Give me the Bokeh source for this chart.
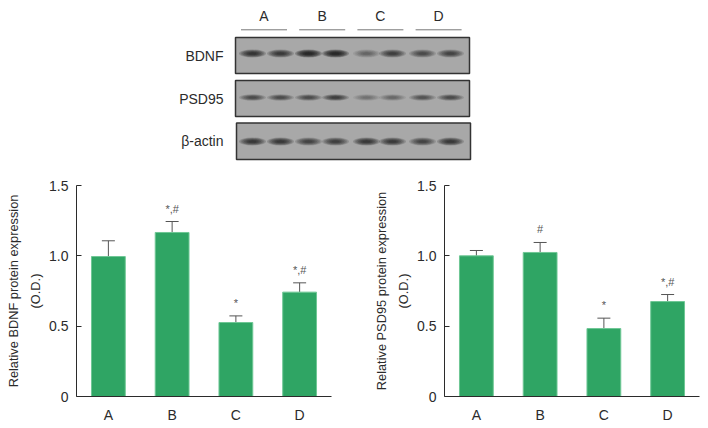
from bokeh.plotting import figure
from bokeh.layouts import column, row
from bokeh.models import Range1d, FactorRange, Whisker, TeeHead, ColumnDataSource, LinearAxis, FixedTicker
from bokeh.core.properties import value
from bokeh.embed import file_html
from bokeh.resources import INLINE

groups = ["A", "B", "C", "D"]
bdnf_mean = [0.995, 1.166, 0.526, 0.742]
bdnf_top = [1.107, 1.244, 0.573, 0.808]
bdnf_marks = ["", "*,#", "*", "*,#"]
psd_mean = [1.0, 1.024, 0.483, 0.675]
psd_top = [1.038, 1.095, 0.557, 0.725]
psd_marks = ["", "#", "*", "*,#"]
y_ticks = [0, 0.5, 1.0, 1.5]
y_tick_labels = {0: "0", 0.5: "0.5", 1: "1.0", 1.5: "1.5"}

blot_names = ["BDNF", "PSD95", "β-actin"]
bdnf_bands = [0.8, 0.7, 1.0, 1.0, 0.35, 0.65, 0.55, 0.6]
psd_bands = [0.55, 0.5, 0.5, 0.65, 0.25, 0.3, 0.45, 0.55]
actin_bands = [0.75, 0.75, 0.6, 0.65, 0.75, 0.7, 0.6, 0.75]

FONT = "Liberation Sans"
INK = "#2b2b2b"

# ---- blot panel: data units are page pixels
blot = figure(width=700, height=161, output_backend="svg", toolbar_location=None,
              x_range=Range1d(0, 700), y_range=Range1d(161, 0),
              min_border=0, outline_line_color=None)
blot.axis.visible = False
blot.grid.visible = False

lane_x = [252, 280, 308, 335, 366, 392, 422, 450]
rows = [(bdnf_bands, 235, 469, 37, 73, 53, 8),
        (psd_bands, 235, 469, 80, 116, 97, 6.5),
        (actin_bands, 236, 470, 122.5, 159, 141, 8)]
for (bands, x0, x1, y0, y1, yc, bh), name in zip(rows, blot_names):
    blot.quad(left=x0, right=x1, top=y0, bottom=y1, fill_color="#a8a8a8",
              line_color="#333333", line_width=1.5)
    for k in range(7):
        f = 1 - k * 0.12
        blot.ellipse(x=lane_x, y=[yc] * 8, width=27 * f, height=bh * f,
                     fill_color="#141414", line_color=None,
                     fill_alpha=[0.24 * b for b in bands])
    blot.text(x=[223], y=[(y0 + y1) / 2], text=[name], text_align="right",
              text_baseline="middle", text_font=value(FONT), text_font_size="14px",
              text_color=INK)

for i, g in enumerate(groups):
    xc = 263.5 + i * 58.2
    blot.text(x=[xc], y=[15], text=[g], text_align="center", text_baseline="middle",
              text_font=value(FONT), text_font_size="14px", text_color=INK)
    blot.segment(x0=[xc - 23], x1=[xc + 23], y0=[29.3], y1=[29.3],
                 line_color="#777777", line_width=1)


def style_label(ax, text, standoff):
    ax.axis_label = text
    ax.axis_label_text_font = FONT
    ax.axis_label_text_font_style = "normal"
    ax.axis_label_text_font_size = "12.8px"
    ax.axis_label_text_color = INK
    ax.axis_label_standoff = standoff


def chart(means, tops, marks, lines, width, left):
    src = ColumnDataSource(dict(g=groups, m=means, t=tops, k=marks))
    p = figure(width=width, height=264, output_backend="svg", toolbar_location=None,
               x_range=FactorRange(*groups, range_padding=0, factor_padding=0),
               y_range=Range1d(0, 1.5),
               min_border_left=left, min_border_right=width - left - 255,
               min_border_top=24, min_border_bottom=29,
               outline_line_color=None)
    p.grid.visible = False
    w = Whisker(base="g", upper="t", lower="m", source=src, dimension="height",
                line_color="#555555", line_width=1,
                upper_head=TeeHead(size=13, line_color="#555555", line_width=1),
                lower_head=None)
    p.add_layout(w)
    p.vbar(x="g", top="m", bottom=0, width=0.53, source=src,
           fill_color="#2fa564", line_color="#6fc795", line_width=1)
    p.text(x="g", y="t", text="k", source=src, text_align="center", text_baseline="middle",
           y_offset=-13, text_font=value(FONT), text_font_size="11px", text_color="#555555")
    for ax in (p.xaxis[0], p.yaxis[0]):
        ax.axis_line_color = INK
        ax.axis_line_width = 1
        ax.major_label_text_font = FONT
        ax.major_label_text_color = INK
        ax.major_label_text_font_size = "14px"
        ax.minor_tick_line_color = None
    xa = p.xaxis[0]
    xa.major_tick_line_color = None
    xa.major_tick_in = 0
    xa.major_tick_out = 0
    xa.major_label_standoff = 10
    ya = p.yaxis[0]
    ya.ticker = y_ticks
    ya.major_label_overrides = y_tick_labels
    ya.major_tick_in = 5
    ya.major_tick_out = 0
    ya.major_tick_line_color = INK
    ya.major_label_standoff = 8
    style_label(ya, lines[1], 3)
    outer = LinearAxis(ticker=FixedTicker(ticks=[]), axis_line_color=None,
                       major_tick_line_color=None, minor_tick_line_color=None,
                       major_tick_in=0, major_tick_out=0, major_label_standoff=0)
    style_label(outer, lines[0], 5)
    p.add_layout(outer, "left")
    return p


left = chart(bdnf_mean, bdnf_top, bdnf_marks, ["Relative BDNF protein expression", "(O.D.)"], 348, 76)
right = chart(psd_mean, psd_top, psd_marks, ["Relative PSD95 protein expression", "(O.D.)"], 352, 96)

page = column(blot, row(left, right, spacing=0), spacing=0)
open("out.html", "w").write(file_html(page, INLINE))
